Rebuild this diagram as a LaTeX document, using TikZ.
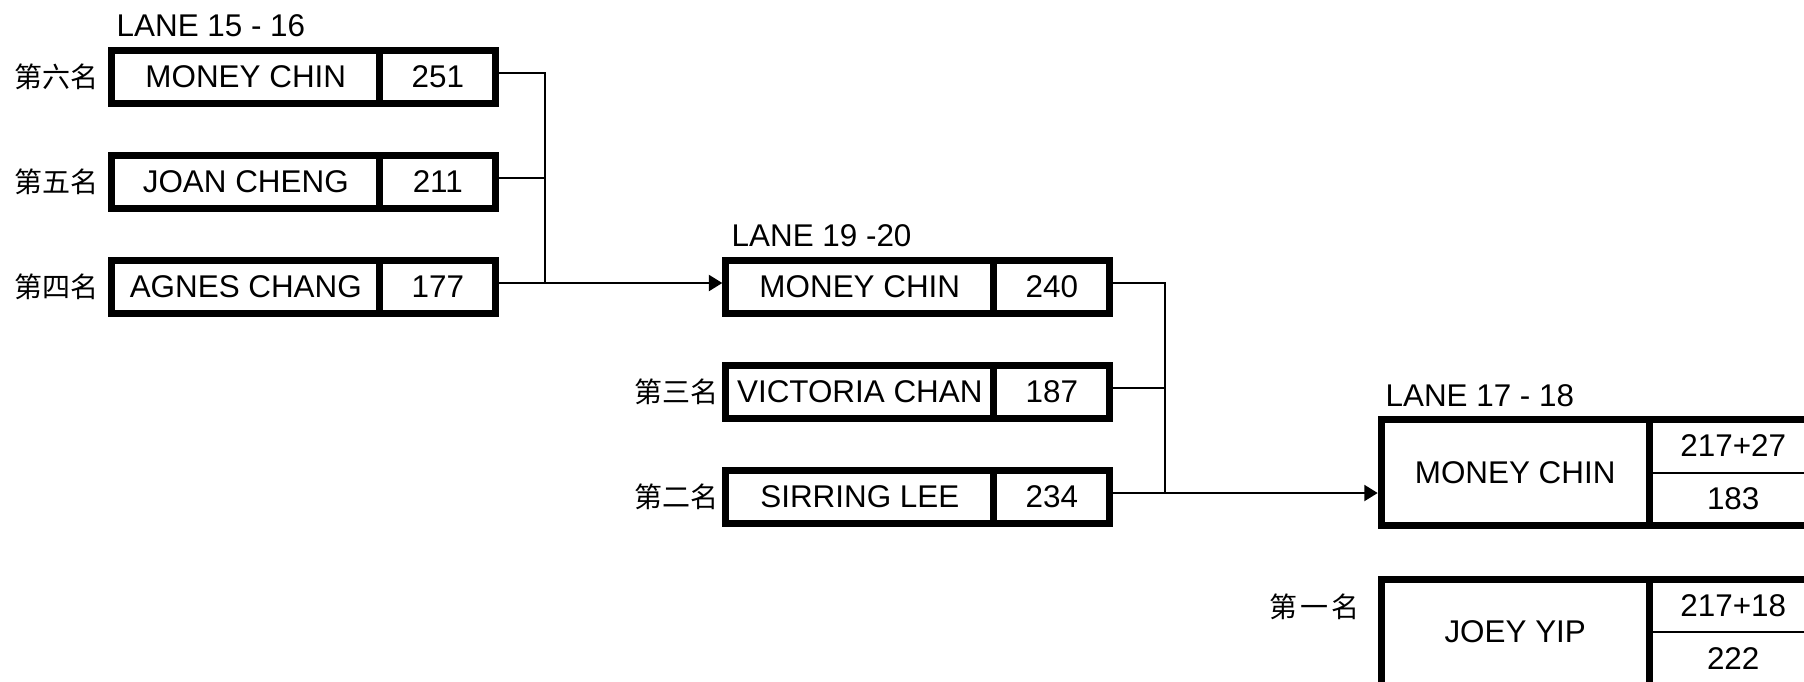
\documentclass[tikz,border=0pt]{standalone}
\usepackage{fontspec}
\setmainfont{Liberation Sans}
\newfontfamily\cjk{Noto Sans CJK SC}
\usetikzlibrary{positioning, arrows.meta}

\begin{document}
\begin{tikzpicture}[
    x=0.5pt, y=-0.5pt,
    node distance=26pt and 115pt,
    boxcell/.style={rectangle, draw=black, line width=3.5pt, outer sep=0pt, inner sep=0pt, minimum height=26.5pt, font=\fontsize{15.7}{18}\selectfont},
    namecell/.style={boxcell, minimum width=134pt},
    scorecell/.style={boxcell, minimum width=58pt},
    bigname/.style={boxcell, minimum width=134pt, minimum height=53pt},
    bigscore/.style={boxcell, minimum width=90pt, minimum height=53pt},
    lanelabel/.style={inner sep=0pt, font=\fontsize{15.7}{18}\selectfont},
    ranklabel/.style={inner sep=0pt, font=\cjk\fontsize{14}{16}\selectfont},
    scoretext/.style={inner sep=0pt, font=\fontsize{15.7}{18}\selectfont},
    link/.style={line width=1pt},
    arrow/.style={link, -{Triangle[length=6.7pt, width=8pt]}, shorten >=1.75pt}
]
\useasboundingbox (0,0) rectangle (1804,681);
\clip (0,0) rectangle (1804,681);

% Lane 15 - 16
\node[namecell] (n6) at (245.8,77) {MONEY CHIN};
\node[scorecell, right=0pt of n6] (s6) {251};
\node[namecell, below=of n6] (n5) {JOAN CHENG};
\node[scorecell, right=0pt of n5] (s5) {211};
\node[namecell, below=of n5] (n4) {AGNES CHANG};
\node[scorecell, right=0pt of n4] (s4) {177};
\node[lanelabel, above right=6.75pt and 2.25pt of n6.north west] (lane1) {LANE 15 - 16};
\node[ranklabel, left=6.5pt of n6] (r6) {第六名};
\node[ranklabel, left=6.5pt of n5] (r5) {第五名};
\node[ranklabel, left=6.5pt of n4] (r4) {第四名};

% Lane 19 - 20
\node[namecell, right=of s4] (m1) {MONEY CHIN};
\node[scorecell, right=0pt of m1] (t1) {240};
\node[namecell, below=of m1] (m2) {VICTORIA CHAN};
\node[scorecell, right=0pt of m2] (t2) {187};
\node[namecell, below=of m2] (m3) {SIRRING LEE};
\node[scorecell, right=0pt of m3] (t3) {234};
\node[lanelabel, above right=6.75pt and 2.75pt of m1.north west] (lane2) {LANE 19 -20};
\node[ranklabel, left=3.5pt of m2] (r3) {第三名};
\node[ranklabel, left=3.5pt of m3] (r2) {第二名};

% Lane 17 - 18
\node[bigname] (f1) at (1515.2,472.5) {MONEY CHIN};
\node[bigscore, right=0pt of f1] (g1) {};
\node[bigname, below=26.75pt of f1] (f2) {JOEY YIP};
\node[bigscore, right=0pt of f2] (g2) {};
\node[lanelabel, above right=6.25pt and 2pt of f1.north west] (lane3) {LANE 17 - 18};
\node[ranklabel, left=10.5pt of f2, yshift=12.5pt] (r1) {第\hspace{1.5pt}一\hspace{1.5pt}名};
\node[scoretext] (g1a) at ([xshift=42pt, yshift=13.25pt]g1.west) {217+27};
\node[scoretext] (g1b) at ([xshift=42pt, yshift=-13.25pt]g1.west) {183};
\node[scoretext] (g2a) at ([xshift=42pt, yshift=13.25pt]g2.west) {217+18};
\node[scoretext] (g2b) at ([xshift=42pt, yshift=-13.25pt]g2.west) {222};
\draw[link] (g1.west) -- (g1.east);
\draw[link] (g2.west) -- (g2.east);

% Brackets
\draw[link] ([yshift=2pt]s6.east) -| ([xshift=24.8pt, yshift=2pt]s4.east);
\draw[link] ([yshift=2pt]s5.east) -- ++(24.8pt,0);
\draw[arrow] ([yshift=2pt]s4.east) -- ([yshift=2pt]m1.west);

\draw[link] ([yshift=2pt]t1.east) -| ([xshift=27.8pt, yshift=2pt]t3.east);
\draw[link] ([yshift=2pt]t2.east) -- ++(27.8pt,0);
\draw[arrow] ([yshift=2pt]t3.east) -- ([yshift=2pt]t3.east -| f1.west);

\end{tikzpicture}
\end{document}
